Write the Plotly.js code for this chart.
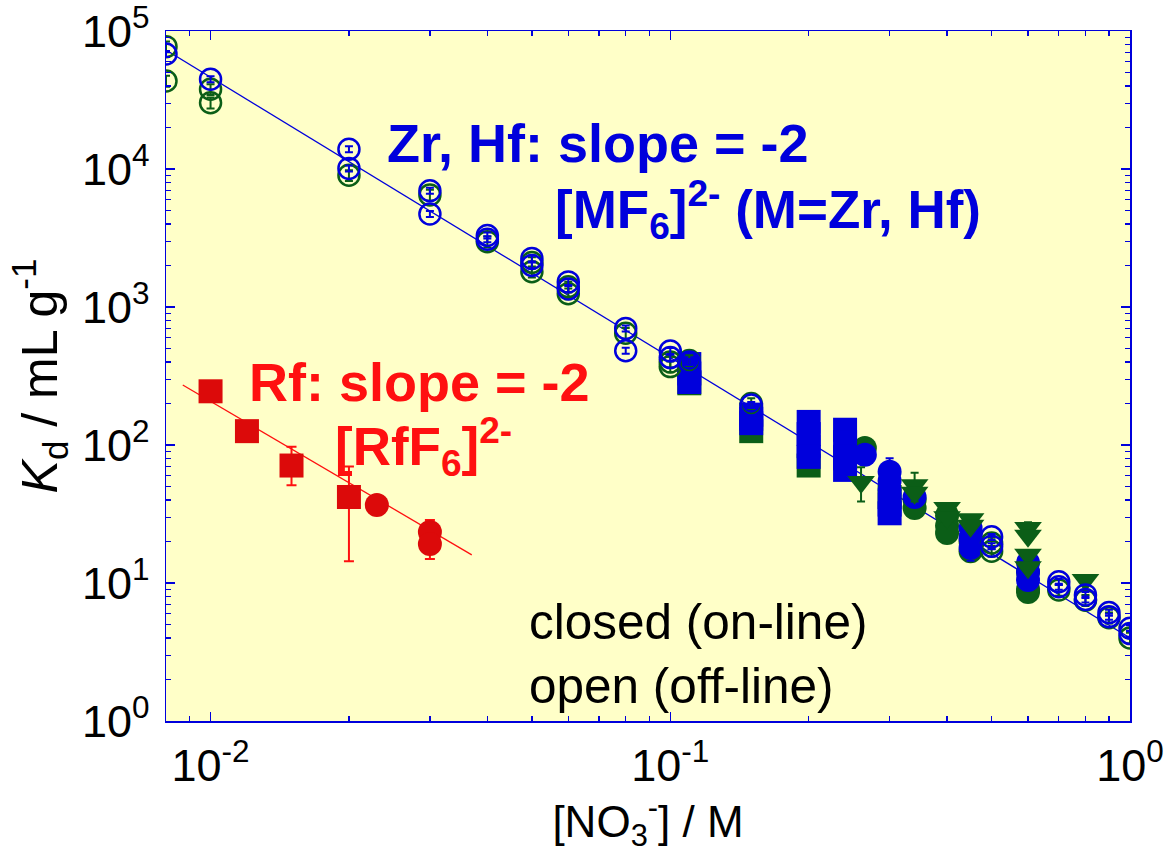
<!DOCTYPE html>
<html>
<head>
<meta charset="utf-8">
<script src="https://cdn.plot.ly/plotly-3.0.1.min.js"></script>
<style>html,body{margin:0;padding:0;background:#fff;}#chart{width:1164px;height:853px;}</style>
</head>
<body>
<div id="chart"></div>
<script>
// ---- data ----
// fitted lines
const lineZrHfX = [0.008, 1.0];
const lineZrHfY = [72800, 4.0];
const lineRfX = [0.0087, 0.037];
const lineRfY = [272, 16];

// Rf (red)
const rfSqX = [0.01, 0.012, 0.015, 0.02];
const rfSqY = [245, 126, 71, 42];
const rfSqErrPlus = [0, 0, 26, 28];
const rfSqErrMinus = [0, 0, 20, 27.6];
const rfCiX = [0.023, 0.03, 0.03];
const rfCiY = [36.7, 23.4, 19.2];
const rfCiErrPlus = [0, 5.2, 0];
const rfCiErrMinus = [0, 0, 4.3];

// Zr off-line (green open)
const zrOffX = [0.008, 0.008, 0.01, 0.01, 0.02, 0.03, 0.04, 0.05, 0.05, 0.06, 0.06, 0.08, 0.1, 0.1, 0.11, 0.15, 0.5, 0.5, 0.7, 0.8, 0.9, 1.0];
const zrOffY = [77000, 43400, 37800, 30200, 9000, 6480, 2970, 2100, 1800, 1400, 1250, 645, 400, 370, 410, 200, 19.5, 17, 8.9, 7.5, 5.6, 4.0];
// Hf off-line (blue open)
const hfOffX = [0.008, 0.01, 0.02, 0.02, 0.03, 0.03, 0.04, 0.04, 0.05, 0.05, 0.06, 0.06, 0.08, 0.08, 0.1, 0.1, 0.11, 0.15, 0.5, 0.5, 0.7, 0.7, 0.8, 0.8, 0.9, 0.9, 1.0, 1.0];
const hfOffY = [68100, 44700, 13900, 10100, 6960, 4720, 3300, 3100, 2250, 2000, 1520, 1350, 700, 482, 480, 430, 400, 195, 21.6, 18.5, 10.2, 9.4, 8.2, 7.6, 6.1, 5.7, 4.7, 4.3];

// on-line (filled)
const zrSqX = [0.11, 0.15, 0.2, 0.24, 0.3];
const zrSqY = [280, 126, 71, 80, 42];
const hfSqX = [0.11, 0.11, 0.11, 0.15, 0.15, 0.15, 0.2, 0.2, 0.2, 0.2, 0.24, 0.24, 0.24, 0.24, 0.3, 0.3];
const hfSqY = [386, 330, 286, 166, 155, 144, 147, 120, 98, 82, 129, 105, 82, 66, 37, 32];
const zrCiX = [0.265, 0.34, 0.34, 0.4, 0.4, 0.4, 0.45, 0.45, 0.6, 0.6, 0.6];
const zrCiY = [95, 40, 35, 31, 26, 23, 20, 17, 12, 9, 8.6];
const zrCiErr = [0, 0, 5, 0, 0, 2, 0, 2, 0, 0, 0.8];
const hfCiX = [0.265, 0.3, 0.3, 0.3, 0.34, 0.45, 0.45, 0.45, 0.6, 0.6, 0.6];
const hfCiY = [85, 64, 55, 47, 42, 25, 21, 18, 14, 12, 10.5];
const hfCiErr = [0, 16, 0, 0, 0, 0, 0, 3.5, 0, 0, 0];
const zrTrX = [0.26, 0.34, 0.34, 0.4, 0.4, 0.45, 0.45, 0.6, 0.6, 0.6, 0.6, 0.8];
const zrTrY = [54, 51, 45, 35, 30, 29, 26, 25, 22, 16, 13, 10.5];
const zrTrErr = [15, 12, 0, 0, 0, 0, 0, 2.5, 0, 0, 0, 0.8];

// tick labels
const yTickVals = [1, 10, 100, 1000, 10000, 100000];
const yTickText = ['10<sup>0</sup>', '10<sup>1</sup>', '10<sup>2</sup>', '10<sup>3</sup>', '10<sup>4</sup>', '10<sup>5</sup>'];
const xTickVals = [0.01, 0.1, 1];
const xTickText = ['10<sup>-2</sup>', '10<sup>-1</sup>', '10<sup>0</sup>'];

// ---- styling ----
const BLUE = '#0000dc';
const GREEN = '#0b5e17';
const RED = '#dc0a0a';
const LRED = '#ff1010';
const FONT = 'Liberation Sans, Arial, Helvetica, sans-serif';

function minorVals(lo, hi) {
  const v = [];
  for (let e = lo; e < hi; e++) for (let d = 2; d <= 9; d++) v.push(d * Math.pow(10, e));
  return v;
}

function errArr(arr, color) {
  return {type: 'data', array: arr, visible: true, color: color, thickness: 2, width: 4};
}

const traces = [
  {x: lineZrHfX, y: lineZrHfY, mode: 'lines', line: {color: BLUE, width: 1.3}, hoverinfo: 'skip'},
  {x: lineRfX, y: lineRfY, mode: 'lines', line: {color: LRED, width: 1.3}, hoverinfo: 'skip'},
  // filled on-line markers
  {x: zrCiX, y: zrCiY, mode: 'markers', marker: {symbol: 'circle', size: 24, color: GREEN}, error_y: errArr(zrCiErr, GREEN)},
  {x: zrSqX, y: zrSqY, mode: 'markers', marker: {symbol: 'square', size: 24, color: GREEN}},
  {x: hfSqX, y: hfSqY, mode: 'markers', marker: {symbol: 'square', size: 24, color: BLUE}},
  {x: hfCiX, y: hfCiY, mode: 'markers', marker: {symbol: 'circle', size: 24, color: BLUE}, error_y: errArr(hfCiErr, BLUE)},
  {x: zrTrX, y: zrTrY, mode: 'markers', marker: {symbol: 'triangle-down', size: 24, color: GREEN}, error_y: errArr(zrTrErr, GREEN)},
  // open off-line markers
  {x: zrOffX, y: zrOffY, mode: 'markers', marker: {symbol: 'circle-open', size: 21, color: GREEN, line: {width: 2.5, color: GREEN}},
   error_y: {type: 'percent', value: 9, color: GREEN, thickness: 2, width: 4}},
  {x: hfOffX, y: hfOffY, mode: 'markers', marker: {symbol: 'circle-open', size: 21, color: BLUE, line: {width: 2.5, color: BLUE}},
   error_y: {type: 'percent', value: 5, color: BLUE, thickness: 2, width: 4}},
  // Rf
  {x: rfSqX, y: rfSqY, mode: 'markers', marker: {symbol: 'square', size: 24, color: RED},
   error_y: {type: 'data', symmetric: false, array: rfSqErrPlus, arrayminus: rfSqErrMinus, color: LRED, thickness: 2, width: 5}},
  {x: rfCiX, y: rfCiY, mode: 'markers', marker: {symbol: 'circle', size: 24, color: RED},
   error_y: {type: 'data', symmetric: false, array: rfCiErrPlus, arrayminus: rfCiErrMinus, color: LRED, thickness: 2, width: 5}}
];

const axisCommon = {
  type: 'log', showgrid: false, zeroline: false,
  showline: true, linecolor: BLUE, linewidth: 1.5, mirror: 'allticks',
  ticks: 'inside', ticklen: 9, tickwidth: 1.3, tickcolor: BLUE,
  tickmode: 'array',
  ticklabeloverflow: 'allow',
  tickfont: {family: FONT, size: 45, color: '#000'}
};

const layout = {
  width: 1164, height: 853,
  margin: {l: 166, r: 34, t: 31, b: 132},
  paper_bgcolor: '#ffffff', plot_bgcolor: '#ffffc8',
  showlegend: false,
  font: {family: FONT, color: '#000'},
  xaxis: Object.assign({}, axisCommon, {
    range: [Math.log10(0.008), 0],
    tickvals: xTickVals, ticktext: xTickText,
    ticklabelstandoff: 4,
    minor: {tickmode: 'array', tickvals: minorVals(-3, 0).filter(v => v >= 0.008), ticks: 'inside', ticklen: 5, tickwidth: 1.3, tickcolor: BLUE},
    title: {text: '[NO<sub>3</sub><sup>-</sup>] / M', font: {family: FONT, size: 44, color: '#000'}, standoff: 22}
  }),
  yaxis: Object.assign({}, axisCommon, {
    range: [0, 5],
    tickvals: yTickVals, ticktext: yTickText,
    ticklabelstandoff: 6,
    minor: {tickmode: 'array', tickvals: minorVals(0, 5), ticks: 'inside', ticklen: 5, tickwidth: 1.3, tickcolor: BLUE},
    title: {text: '<i>K</i><sub>d</sub> / mL g<sup>-1</sup>', font: {family: FONT, size: 50, color: '#000'}, standoff: 8}
  }),
  annotations: [
    {xref: 'paper', yref: 'paper', x: 0.227, y: 0.838, xanchor: 'left', yanchor: 'middle', showarrow: false,
     text: '<b>Zr, Hf: slope = -2</b>', font: {family: FONT, size: 54, color: BLUE}},
    {xref: 'paper', yref: 'paper', x: 0.401, y: 0.741, xanchor: 'left', yanchor: 'middle', showarrow: false,
     text: '<b>[MF<sub>6</sub>]<sup>2-</sup> (M=Zr, Hf)</b>', font: {family: FONT, size: 53, color: BLUE}},
    {xref: 'paper', yref: 'paper', x: 0.084, y: 0.492, xanchor: 'left', yanchor: 'middle', showarrow: false,
     text: '<b>Rf: slope = -2</b>', font: {family: FONT, size: 54, color: LRED}},
    {xref: 'paper', yref: 'paper', x: 0.173, y: 0.398, xanchor: 'left', yanchor: 'middle', showarrow: false,
     text: '<b>[RfF<sub>6</sub>]<sup>2-</sup></b>', font: {family: FONT, size: 53, color: LRED}},
    {xref: 'paper', yref: 'paper', x: 0.3745, y: 0.1435, xanchor: 'left', yanchor: 'middle', showarrow: false,
     text: 'closed (on-line)', font: {family: FONT, size: 49.5, color: '#000'}},
    {xref: 'paper', yref: 'paper', x: 0.3745, y: 0.052, xanchor: 'left', yanchor: 'middle', showarrow: false,
     text: 'open (off-line)', font: {family: FONT, size: 49.5, color: '#000'}}
  ]
};

Plotly.newPlot('chart', traces, layout, {displayModeBar: false, staticPlot: true});
</script>
</body>
</html>
